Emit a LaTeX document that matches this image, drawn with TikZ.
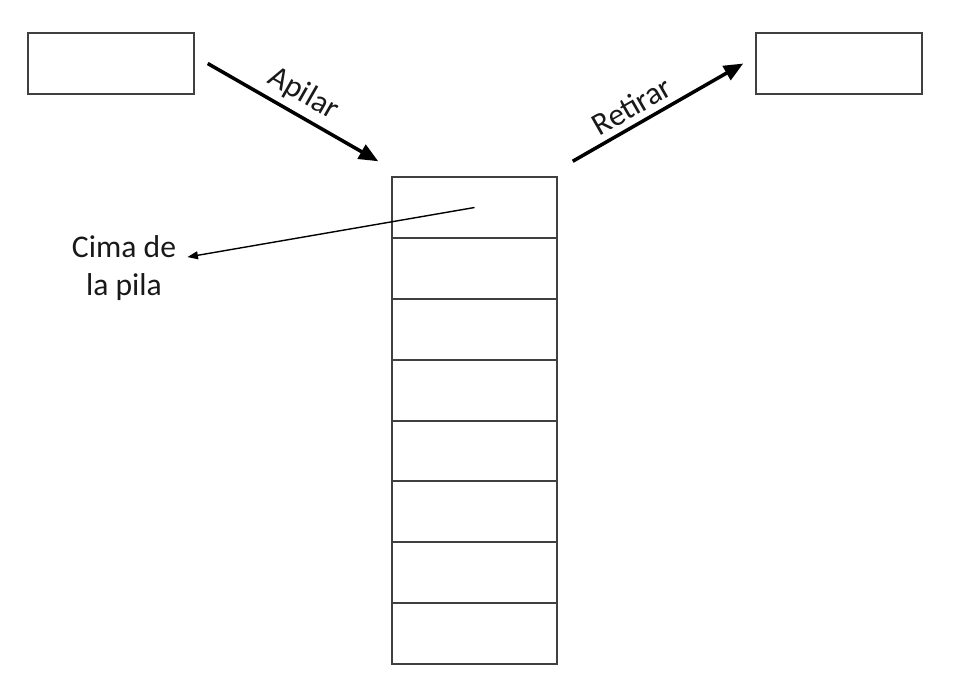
\documentclass[tikz,border=0pt]{standalone}
\usepackage{fontspec}
\setmainfont{Carlito}
\usetikzlibrary{arrows.meta,calc}

\begin{document}
\begin{tikzpicture}[x=0.02cm, y=-0.02cm,
  box/.style={draw=black!75, line width=0.85pt, minimum width=3.32cm, minimum height=1.22cm, inner sep=0pt},
  cell/.style={draw=black!75, line width=0.85pt, minimum width=3.3cm, minimum height=1.22cm, inner sep=0pt},
  txt/.style={font=\fontsize{18}{22}\selectfont, text=black!90}]
\useasboundingbox (0,0) rectangle (953,694);

\node[box] (in) at (111,63.5) {};
\node[box] (out) at (839,63.5) {};

\node[cell] (c1) at (474.5,207.5) {};
\node[cell] (c2) at (474.5,268.5) {};
\node[cell] (c3) at (474.5,329.5) {};
\node[cell] (c4) at (474.5,390.5) {};
\node[cell] (c5) at (474.5,451) {};
\node[cell] (c6) at (474.5,511.5) {};
\node[cell] (c7) at (474.5,572.5) {};
\node[cell] (c8) at (474.5,633.5) {};

\node[txt, align=center] (cima) at (124,268) {Cima de\\la pila};

\draw[line width=2pt, -{Triangle[length=11pt,width=9pt]}] ($(in.east)+(13,0)$) -- node[txt, sloped, above, pos=0.5] (apilar) {Apilar} ($(c1.north west)+(-13,-15)$);
\draw[line width=2pt, -{Triangle[length=11pt,width=9pt]}] ($(c1.north east)+(15,-15)$) -- node[txt, sloped, above, pos=0.40] (retirar) {Retirar} ($(out.west)+(-12,0)$);
\draw[line width=0.8pt, -{Triangle[length=6pt,width=4.5pt]}, shorten >=3pt] (c1.center) -- (cima);
\end{tikzpicture}
\end{document}
